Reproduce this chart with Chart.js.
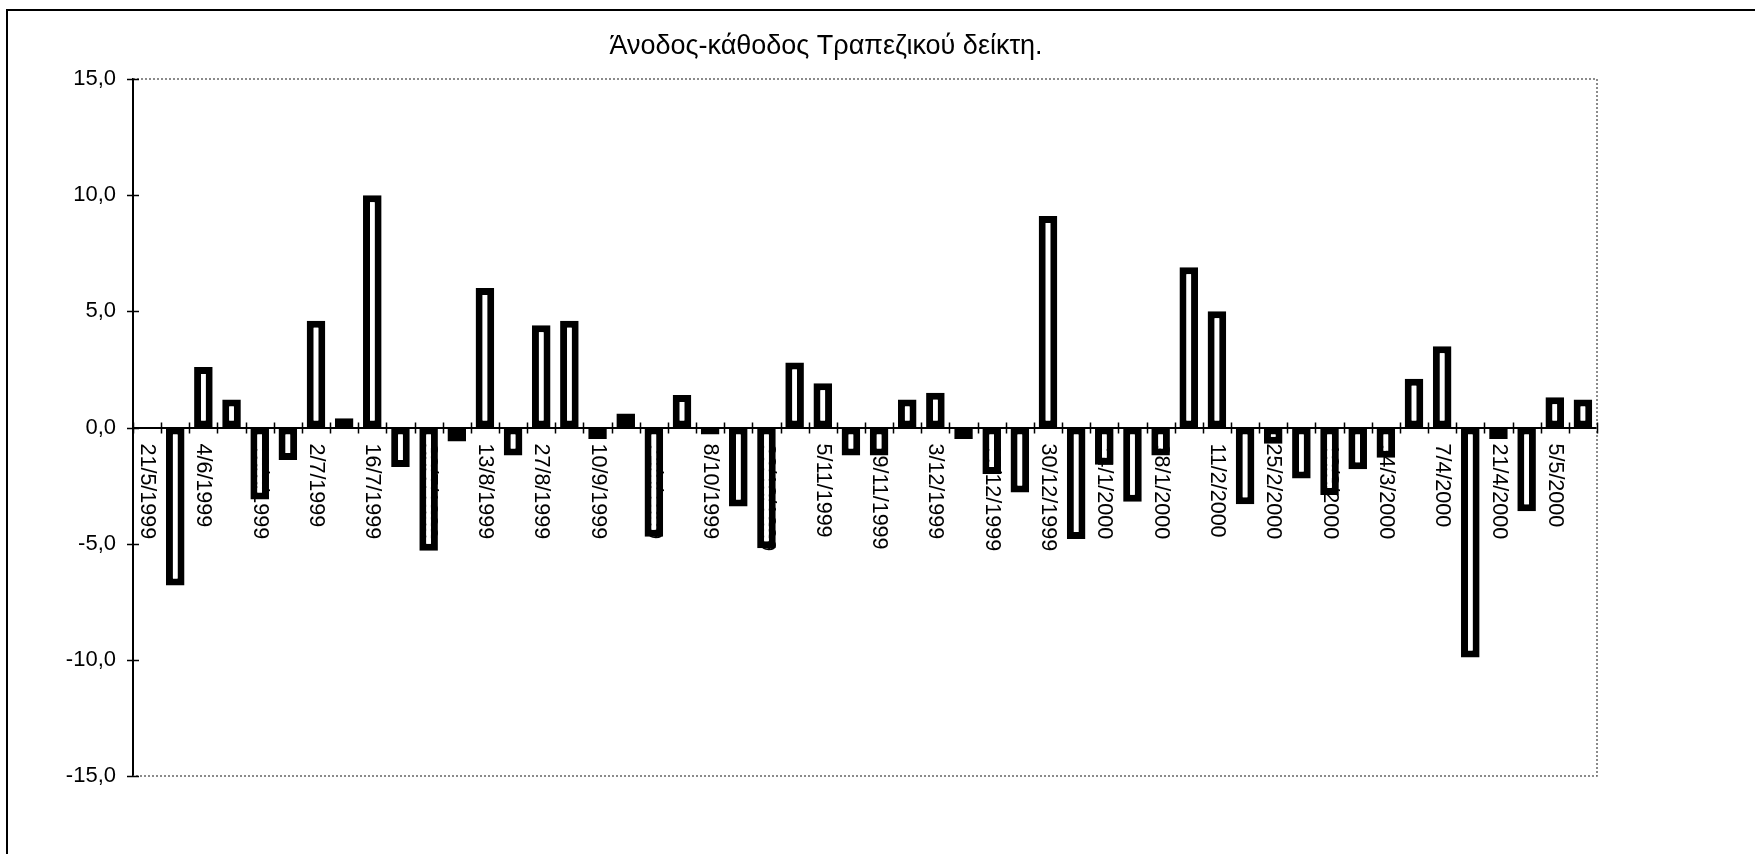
<!DOCTYPE html>
<html lang="el">
<head>
<meta charset="utf-8">
<title>Άνοδος-κάθοδος Τραπεζικού δείκτη</title>
<script src="https://cdn.jsdelivr.net/npm/chart.js@4/dist/chart.umd.min.js"></script>
<style>
  html, body { margin: 0; padding: 0; background: #fff; }
  #wrap { position: relative; width: 1755px; height: 854px; }
  canvas { display: block; }
</style>
</head>
<body>
<div id="wrap"><canvas id="chart" width="1755" height="854"></canvas></div>
<script>
// Weekly dates (Friday closes), May 1999 – May 2000
const weeks = [
  '21/5/1999', '28/5/1999', '4/6/1999', '11/6/1999', '18/6/1999', '25/6/1999',
  '2/7/1999', '9/7/1999', '16/7/1999', '23/7/1999', '30/7/1999', '6/8/1999',
  '13/8/1999', '20/8/1999', '27/8/1999', '3/9/1999', '10/9/1999', '17/9/1999',
  '24/9/1999', '1/10/1999', '8/10/1999', '15/10/1999', '22/10/1999', '29/10/1999',
  '5/11/1999', '12/11/1999', '19/11/1999', '26/11/1999', '3/12/1999', '10/12/1999',
  '17/12/1999', '24/12/1999', '30/12/1999', '7/1/2000', '14/1/2000', '21/1/2000',
  '28/1/2000', '4/2/2000', '11/2/2000', '18/2/2000', '25/2/2000', '3/3/2000',
  '10/3/2000', '17/3/2000', '24/3/2000', '31/3/2000', '7/4/2000', '14/4/2000',
  '21/4/2000', '27/4/2000', '5/5/2000', '12/5/2000'
];

// Weekly rise / fall of the banking index (%)
const weeklyChange = [
  null, -6.8, 2.6, 1.2, -3.1, -1.4,
  4.6, 0.4, 10.0, -1.7, -5.3, -0.6,
  6.0, -1.2, 4.4, 4.6, -0.5, 0.6,
  -4.7, 1.4, -0.3, -3.4, -5.2, 2.8,
  1.9, -1.2, -1.2, 1.2, 1.5, -0.5,
  -2.0, -2.8, 9.1, -4.8, -1.6, -3.2,
  -1.2, 6.9, 5.0, -3.3, -0.7, -2.2,
  -2.9, -1.8, -1.3, 2.1, 3.5, -9.9,
  -0.5, -3.6, 1.3, 1.2
];

// Value axis
const yTicks = [-15, -10, -5, 0, 5, 10, 15];

const FONT = "'Liberation Sans', Arial, sans-serif";

// Outer frame, plot-area outline, crossing tick marks and vertical date labels
const decorations = {
  id: 'decorations',
  beforeDraw(chart) {
    const ctx = chart.ctx;
    ctx.save();
    ctx.strokeStyle = '#000';
    ctx.lineWidth = 2;
    ctx.beginPath();
    ctx.moveTo(7, chart.height);
    ctx.lineTo(7, 10);
    ctx.lineTo(chart.width, 10);
    ctx.stroke();
    ctx.restore();
  },
  beforeDatasetsDraw(chart) {
    const ctx = chart.ctx;
    const a = chart.chartArea;
    const xs = chart.scales.x;
    const ys = chart.scales.y;
    const zeroY = ys.getPixelForValue(0);

    ctx.save();
    // dotted grey outline on the three free sides of the plot area
    ctx.strokeStyle = '#666';
    ctx.lineWidth = 1.5;
    ctx.setLineDash([2, 2]);
    ctx.beginPath();
    ctx.moveTo(a.left, a.top);
    ctx.lineTo(a.right, a.top);
    ctx.lineTo(a.right, a.bottom);
    ctx.lineTo(a.left, a.bottom);
    ctx.stroke();
    ctx.setLineDash([]);

    // crossing tick marks between categories
    ctx.strokeStyle = '#000';
    ctx.lineWidth = 1.5;
    const n = xs.getLabels().length;
    const step = xs.getPixelForValue(1) - xs.getPixelForValue(0);
    ctx.beginPath();
    for (let i = 0; i <= n; i++) {
      const x = Math.round(xs.getPixelForValue(i) - step / 2) + 0.5;
      ctx.moveTo(x, zeroY - 5);
      ctx.lineTo(x, zeroY + 6);
    }
    // crossing tick marks on the value axis
    yTicks.forEach(v => {
      const y = Math.round(ys.getPixelForValue(v)) + 0.5;
      ctx.moveTo(a.left - 6, y);
      ctx.lineTo(a.left + 6, y);
    });
    ctx.stroke();

    // date labels, every second week, reading downwards
    ctx.fillStyle = '#000';
    ctx.font = '21.5px ' + FONT;
    ctx.textAlign = 'left';
    ctx.textBaseline = 'middle';
    xs.getLabels().forEach((lbl, i) => {
      if (i % 2 !== 0) return;
      const x = xs.getPixelForValue(i);
      ctx.save();
      ctx.translate(x, zeroY + 16);
      ctx.rotate(Math.PI / 2);
      ctx.fillText(lbl, 0, 0);
      ctx.restore();
    });
    ctx.restore();
  }
};

new Chart(document.getElementById('chart'), {
  type: 'bar',
  data: {
    labels: weeks,
    datasets: [{
      data: weeklyChange,
      backgroundColor: '#ffffff',
      borderColor: '#000000',
      borderWidth: 7,
      borderSkipped: false,
      barPercentage: 0.66,
      categoryPercentage: 1.0
    }]
  },
  options: {
    responsive: false,
    animation: false,
    devicePixelRatio: 1,
    layout: { padding: { left: 55, right: 158, top: 0, bottom: 78 } },
    plugins: {
      legend: { display: false },
      tooltip: { enabled: false },
      title: {
        display: true,
        text: 'Άνοδος-κάθοδος Τραπεζικού δείκτη.',
        color: '#000',
        font: { family: FONT, size: 27, weight: 'normal', lineHeight: 1.2 },
        padding: { top: 30.8, bottom: 15.8 }
      }
    },
    scales: {
      x: {
        type: 'category',
        position: { y: 0 },
        offset: true,
        grid: { display: false, drawTicks: false },
        border: { display: true, color: '#000', width: 2 },
        ticks: { display: false }
      },
      y: {
        min: -15,
        max: 15,
        afterFit(scale) { scale.width = 78; },
        afterBuildTicks(scale) { scale.ticks = yTicks.map(v => ({ value: v })); },
        grid: { display: false, drawTicks: false },
        border: { display: true, color: '#000', width: 2 },
        ticks: {
          color: '#000',
          padding: 17,
          font: { family: FONT, size: 22 },
          callback: v => v.toFixed(1).replace('.', ',')
        }
      }
    }
  },
  plugins: [decorations]
});
</script>
</body>
</html>
